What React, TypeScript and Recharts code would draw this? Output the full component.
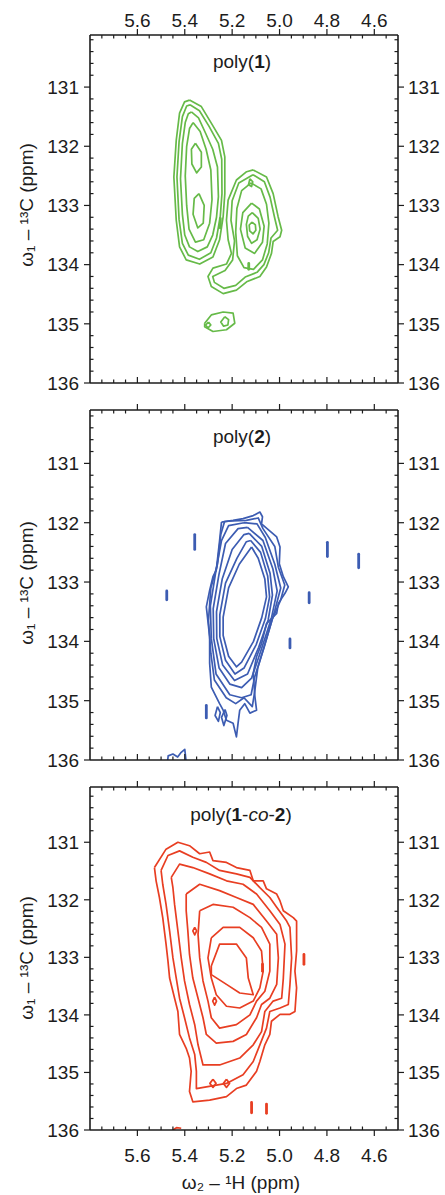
import React from 'react';
import { LineChart, Line, XAxis, YAxis } from 'recharts';

type Pt = [number, number];

// axis ticks (ppm)
const X_MAJOR = [5.6, 5.4, 5.2, 5.0, 4.8, 4.6];
const Y_MAJOR = [131, 132, 133, 134, 135, 136];
const X_DOMAIN: [number, number] = [4.5, 5.8];

// ---------- poly(1) contours ----------
const p1Left1: Pt[] = [[5.380,131.22],[5.330,131.33],[5.288,131.61],[5.245,131.90],[5.231,132.18],[5.231,132.80],[5.238,133.19],[5.253,133.58],[5.281,133.87],[5.337,133.99],[5.394,133.92],[5.422,133.70],[5.436,133.25],[5.446,132.52],[5.436,131.90],[5.422,131.44],[5.401,131.25],[5.380,131.22]];
const p1Left2: Pt[] = [[5.378,131.30],[5.338,131.40],[5.298,131.66],[5.258,131.95],[5.244,132.22],[5.243,132.80],[5.250,133.18],[5.266,133.55],[5.290,133.80],[5.338,133.91],[5.385,133.84],[5.410,133.64],[5.424,133.24],[5.433,132.52],[5.424,131.92],[5.410,131.50],[5.392,131.32],[5.378,131.30]];
const p1Left3: Pt[] = [[5.372,131.42],[5.342,131.52],[5.312,131.78],[5.282,132.05],[5.262,132.35],[5.258,132.85],[5.266,133.20],[5.282,133.50],[5.305,133.70],[5.345,133.78],[5.380,133.70],[5.400,133.50],[5.410,133.15],[5.418,132.55],[5.410,131.95],[5.398,131.60],[5.385,131.45],[5.372,131.42]];
const p1Left4: Pt[] = [[5.365,131.60],[5.335,131.75],[5.310,132.05],[5.290,132.40],[5.285,132.90],[5.295,133.30],[5.320,133.58],[5.355,133.62],[5.382,133.40],[5.392,133.00],[5.398,132.50],[5.392,132.00],[5.380,131.70],[5.365,131.60]];
const p1Left5: Pt[] = [[5.355,131.95],[5.330,132.10],[5.330,132.35],[5.350,132.45],[5.370,132.30],[5.372,132.05],[5.355,131.95]];
const p1Left6: Pt[] = [[5.340,132.80],[5.318,133.00],[5.322,133.30],[5.345,133.38],[5.365,133.15],[5.360,132.88],[5.340,132.80]];
const p1Right1: Pt[] = [[5.111,132.40],[5.055,132.52],[5.027,132.80],[5.006,133.19],[4.991,133.42],[4.998,133.53],[5.027,133.61],[5.034,133.81],[5.055,134.04],[5.083,134.20],[5.139,134.29],[5.182,134.43],[5.238,134.49],[5.288,134.37],[5.302,134.20],[5.281,134.06],[5.224,133.99],[5.203,133.81],[5.217,133.58],[5.224,133.25],[5.217,132.91],[5.182,132.57],[5.139,132.43],[5.111,132.40]];
const p1Right2: Pt[] = [[5.112,132.48],[5.064,132.60],[5.040,132.86],[5.020,133.22],[5.008,133.42],[5.036,133.55],[5.046,133.80],[5.066,134.00],[5.095,134.13],[5.145,134.21],[5.185,134.35],[5.235,134.40],[5.275,134.30],[5.282,134.20],[5.230,134.10],[5.198,133.92],[5.190,133.60],[5.205,133.25],[5.200,132.92],[5.172,132.62],[5.112,132.48]];
const p1Right3: Pt[] = [[5.120,132.62],[5.078,132.72],[5.055,132.98],[5.045,133.30],[5.052,133.65],[5.072,133.92],[5.110,134.08],[5.150,134.05],[5.178,133.85],[5.185,133.45],[5.180,133.05],[5.160,132.75],[5.120,132.62]];
const p1Right4: Pt[] = [[5.118,132.96],[5.085,133.06],[5.065,133.35],[5.072,133.62],[5.105,133.81],[5.145,133.72],[5.165,133.40],[5.155,133.12],[5.118,132.96]];
const p1Right5: Pt[] = [[5.115,133.12],[5.090,133.22],[5.082,133.40],[5.095,133.58],[5.118,133.64],[5.135,133.52],[5.140,133.32],[5.132,133.18],[5.115,133.12]];
const p1Right6: Pt[] = [[5.116,133.28],[5.102,133.33],[5.100,133.42],[5.112,133.48],[5.126,133.43],[5.128,133.33],[5.116,133.28]];
const p1Dot1: Pt[] = [[5.125,132.55],[5.113,132.60],[5.118,132.68],[5.131,132.65],[5.125,132.55]];
const p1Bottom1: Pt[] = [[5.316,134.99],[5.288,134.85],[5.238,134.80],[5.196,134.82],[5.189,134.99],[5.224,135.10],[5.281,135.13],[5.316,135.05],[5.316,134.99]];
const p1Bottom2: Pt[] = [[5.231,134.88],[5.215,134.93],[5.218,135.02],[5.236,135.04],[5.248,134.97],[5.231,134.88]];
const p1Bottom3: Pt[] = [[5.300,134.97],[5.290,135.02],[5.302,135.07],[5.312,135.02],[5.300,134.97]];
const p1Spots: Pt[][] = [[[5.25,133.22],[5.25,133.38]],[[5.13,133.98],[5.13,134.08]]];

// ---------- poly(2) contours ----------
const p2Ring1: Pt[] = [[5.245,131.99],[5.196,131.96],[5.154,131.93],[5.111,131.88],[5.083,131.82],[5.072,131.90],[5.076,132.02],[5.012,132.24],[4.998,132.41],[5.001,132.69],[4.984,132.91],[4.963,133.08],[4.977,133.19],[5.005,133.36],[5.012,133.53],[5.055,133.70],[5.076,134.04],[5.097,134.26],[5.111,134.54],[5.104,134.93],[5.097,135.16],[5.125,135.21],[5.147,135.05],[5.168,135.16],[5.175,135.38],[5.182,135.61],[5.196,135.38],[5.224,135.33],[5.238,135.16],[5.253,135.05],[5.288,134.77],[5.295,134.37],[5.295,133.92],[5.309,133.42],[5.295,133.14],[5.281,132.91],[5.267,132.80],[5.253,132.30],[5.245,131.99]];
const p2Ring2: Pt[] = [[5.200,131.97],[5.140,131.96],[5.090,131.92],[5.070,132.10],[5.020,132.40],[5.005,132.75],[4.978,133.05],[4.995,133.30],[5.030,133.62],[5.062,134.05],[5.092,134.45],[5.105,134.85],[5.115,135.10],[5.150,134.95],[5.185,135.05],[5.225,134.95],[5.275,134.65],[5.290,134.20],[5.300,133.65],[5.290,133.10],[5.262,132.70],[5.248,132.20],[5.232,131.98],[5.200,131.97]];
const p2Ring3: Pt[] = [[5.150,132.00],[5.095,132.02],[5.060,132.25],[5.020,132.70],[4.995,133.10],[5.020,133.48],[5.065,134.10],[5.105,134.60],[5.120,134.90],[5.160,134.95],[5.210,134.90],[5.268,134.55],[5.288,133.95],[5.292,133.40],[5.270,132.85],[5.245,132.30],[5.215,132.05],[5.150,132.00]];
const p2Ring4: Pt[] = [[5.135,132.08],[5.070,132.30],[5.028,132.78],[5.010,133.15],[5.035,133.62],[5.078,134.15],[5.118,134.62],[5.160,134.78],[5.210,134.72],[5.255,134.45],[5.278,133.95],[5.280,133.45],[5.256,132.88],[5.228,132.35],[5.175,132.10],[5.135,132.08]];
const p2Ring5: Pt[] = [[5.128,132.18],[5.075,132.40],[5.040,132.85],[5.030,133.22],[5.048,133.64],[5.088,134.10],[5.135,134.55],[5.190,134.66],[5.240,134.40],[5.265,133.95],[5.266,133.50],[5.242,132.95],[5.200,132.45],[5.150,132.20],[5.128,132.18]];
const p2Ring6: Pt[] = [[5.122,132.30],[5.080,132.50],[5.050,132.90],[5.042,133.25],[5.060,133.62],[5.098,134.05],[5.150,134.45],[5.188,134.55],[5.228,134.32],[5.252,133.92],[5.252,133.55],[5.228,133.02],[5.180,132.60],[5.140,132.32],[5.122,132.30]];
const p2Ring7: Pt[] = [[5.118,132.41],[5.090,132.60],[5.062,132.95],[5.055,133.25],[5.075,133.60],[5.110,134.00],[5.160,134.35],[5.182,134.43],[5.215,134.25],[5.238,133.90],[5.238,133.59],[5.215,133.10],[5.170,132.70],[5.118,132.41]];
const p2Loop1: Pt[] = [[5.262,135.10],[5.250,135.20],[5.258,135.35],[5.272,135.25],[5.262,135.10]];
const p2Loop2: Pt[] = [[5.230,135.15],[5.222,135.25],[5.235,135.42],[5.245,135.28],[5.230,135.15]];
const p2Edge: Pt[] = [[5.472,136.0],[5.470,135.93],[5.450,135.90],[5.430,135.95],[5.415,135.87],[5.400,135.82],[5.395,136.0]];
const p2Spots: Pt[][] = [
  [[5.358,132.20],[5.358,132.45]],
  [[5.476,133.15],[5.476,133.30]],
  [[4.798,132.33],[4.798,132.57]],
  [[4.666,132.53],[4.666,132.76]],
  [[4.875,133.18],[4.875,133.35]],
  [[4.956,133.96],[4.956,134.11]],
  [[5.309,135.08],[5.309,135.29]],
];

// ---------- poly(1-co-2) contours ----------
const p3Ring1: Pt[] = [[5.528,131.44],[5.479,131.12],[5.429,131.00],[5.380,131.06],[5.337,131.20],[5.295,131.17],[5.281,131.32],[5.224,131.35],[5.182,131.44],[5.125,131.49],[5.111,131.67],[5.069,131.67],[5.055,131.81],[5.012,131.90],[4.998,132.02],[4.984,132.19],[4.942,132.31],[4.928,132.37],[4.928,132.89],[4.935,133.24],[4.928,133.53],[4.935,133.94],[4.956,133.99],[4.998,133.99],[5.034,134.11],[5.041,134.34],[5.062,134.52],[5.083,134.81],[5.097,134.98],[5.140,135.22],[5.182,135.28],[5.224,135.42],[5.295,135.48],[5.366,135.51],[5.380,135.33],[5.373,134.98],[5.380,134.75],[5.394,134.58],[5.422,134.34],[5.429,133.94],[5.443,133.71],[5.464,133.36],[5.471,133.06],[5.479,132.77],[5.493,132.31],[5.507,131.96],[5.521,131.67],[5.528,131.44]];
const p3Ring2: Pt[] = [[5.500,131.49],[5.471,131.23],[5.422,131.15],[5.366,131.26],[5.309,131.35],[5.253,131.49],[5.182,131.55],[5.125,131.61],[5.083,131.79],[5.041,131.96],[5.012,132.13],[4.970,132.37],[4.956,132.48],[4.949,133.01],[4.956,133.47],[4.963,133.82],[4.998,133.88],[5.041,133.94],[5.055,134.23],[5.083,134.52],[5.111,134.81],[5.154,135.04],[5.224,135.19],[5.309,135.25],[5.351,135.28],[5.351,134.98],[5.358,134.69],[5.380,134.40],[5.401,134.05],[5.422,133.71],[5.436,133.36],[5.450,133.01],[5.464,132.54],[5.479,132.08],[5.493,131.73],[5.500,131.49]];
const p3Ring3: Pt[] = [[5.457,131.61],[5.422,131.38],[5.366,131.44],[5.295,131.55],[5.224,131.67],[5.154,131.73],[5.097,131.90],[5.041,132.19],[4.998,132.43],[4.977,132.77],[4.984,133.36],[4.991,133.71],[5.027,133.76],[5.062,133.94],[5.076,134.29],[5.111,134.52],[5.168,134.75],[5.253,134.87],[5.323,134.87],[5.344,134.52],[5.358,134.17],[5.380,133.82],[5.401,133.41],[5.415,133.01],[5.429,132.54],[5.443,132.08],[5.450,131.79],[5.457,131.61]];
const p3Ring4: Pt[] = [[5.394,131.90],[5.337,131.73],[5.253,131.84],[5.182,131.96],[5.111,132.08],[5.055,132.37],[5.012,132.60],[5.005,133.01],[5.012,133.47],[5.041,133.71],[5.076,133.82],[5.097,134.05],[5.140,134.34],[5.196,134.46],[5.267,134.49],[5.309,134.34],[5.323,134.05],[5.344,133.71],[5.366,133.36],[5.380,132.95],[5.387,132.54],[5.394,132.19],[5.394,131.90]];
const p3Ring5: Pt[] = [[5.337,132.19],[5.281,132.08],[5.196,132.13],[5.125,132.31],[5.076,132.48],[5.041,132.77],[5.041,133.24],[5.062,133.59],[5.097,133.76],[5.125,134.00],[5.182,134.17],[5.253,134.23],[5.288,134.05],[5.302,133.76],[5.323,133.41],[5.337,133.01],[5.344,132.60],[5.337,132.19]];
const p3Ring6: Pt[] = [[5.288,132.66],[5.238,132.48],[5.168,132.48],[5.111,132.66],[5.076,132.89],[5.069,133.24],[5.083,133.53],[5.111,133.76],[5.168,133.88],[5.224,133.85],[5.267,133.65],[5.288,133.36],[5.302,133.01],[5.288,132.66]];
const p3Ring7: Pt[] = [[5.288,133.15],[5.253,132.77],[5.182,132.77],[5.140,133.01],[5.132,133.36],[5.111,133.65],[5.168,133.62],[5.224,133.47],[5.288,133.30],[5.288,133.15]];
const p3Loop1: Pt[] = [[5.281,135.12],[5.268,135.19],[5.281,135.26],[5.294,135.19],[5.281,135.12]];
const p3Loop2: Pt[] = [[5.224,135.12],[5.211,135.19],[5.224,135.26],[5.237,135.19],[5.224,135.12]];
const p3Loop3: Pt[] = [[5.358,132.48],[5.350,132.54],[5.358,132.61],[5.366,132.54],[5.358,132.48]];
const p3Loop4: Pt[] = [[5.274,133.69],[5.266,133.76],[5.274,133.83],[5.282,133.76],[5.274,133.69]];
const p3Edge: Pt[] = [[5.450,136.0],[5.435,135.96],[5.415,135.97]];
const p3Spots: Pt[][] = [
  [[4.897,132.95],[4.897,133.12]],
  [[5.118,135.52],[5.118,135.70]],
  [[5.055,135.55],[5.055,135.71]],
  [[5.072,133.12],[5.072,133.24]],
];

const p1Contours = [p1Left1, p1Left2, p1Left3, p1Left4, p1Left5, p1Left6, p1Right1, p1Right2, p1Right3, p1Right4, p1Right5, p1Right6, p1Dot1, p1Bottom1, p1Bottom2, p1Bottom3];
const p2Contours = [p2Ring1, p2Ring2, p2Ring3, p2Ring4, p2Ring5, p2Ring6, p2Ring7, p2Loop1, p2Loop2, p2Edge];
const p3Contours = [p3Ring1, p3Ring2, p3Ring3, p3Ring4, p3Ring5, p3Ring6, p3Ring7, p3Loop1, p3Loop2, p3Loop3, p3Loop4, p3Edge];

const FONT = '"Liberation Sans", Arial, Helvetica, sans-serif';
const INK = '#1c1c1c';

function buildTicks(from: number, to: number, step: number) {
  const out: number[] = [];
  for (let v = from; v <= to + 1e-9; v += step) out.push(Math.round(v * 1000) / 1000);
  return out;
}
const xTicks = buildTicks(4.55, 5.75, 0.05);
const yTicks = buildTicks(130.2, 136, 0.2);
const isMajor = (v: number, majors: number[]) => majors.some((m) => Math.abs(m - v) < 1e-6);
const toPoints = (c: Pt[]) => c.map(([x, y]) => ({ x, y }));

const xTick = (side: 'top' | 'bottom', labels: boolean, outward: boolean) => (p: any) => {
  const v = p.payload.value;
  const major = isMajor(v, X_MAJOR);
  const dir = side === 'top' ? -1 : 1;
  const len = major ? (outward ? dir * 6 : -dir * 6) : -dir * 3.5;
  return (
    <g>
      <line x1={p.x} x2={p.x} y1={p.y} y2={p.y + len} stroke={INK} strokeWidth={1.2} />
      {labels && major && (
        <text x={p.x} y={side === 'top' ? p.y - 8 : p.y + 32} textAnchor="middle" fontSize={19} fontFamily={FONT} fill={INK}>
          {v.toFixed(1)}
        </text>
      )}
    </g>
  );
};

const yTick = (side: 'left' | 'right') => (p: any) => {
  const v = p.payload.value;
  const major = isMajor(v, Y_MAJOR);
  const dir = side === 'left' ? -1 : 1;
  const len = major ? dir * 6 : -dir * 3.5;
  return (
    <g>
      <line x1={p.x} x2={p.x + len} y1={p.y} y2={p.y} stroke={INK} strokeWidth={1.2} />
      {major && (
        <text x={side === 'left' ? p.x - 11 : p.x + 10} y={p.y} dy="0.36em" textAnchor={side === 'left' ? 'end' : 'start'} fontSize={19} fontFamily={FONT} fill={INK}>
          {v}
        </text>
      )}
    </g>
  );
};

interface PanelProps {
  top: number;
  height: number;
  topH: number;
  bottomH: number;
  yMin: number;
  color: string;
  contours: Pt[][];
  spots: Pt[][];
  topLabels: boolean;
  bottomLabels: boolean;
}

function Panel({ top, height, topH, bottomH, yMin, color, contours, spots, topLabels, bottomLabels }: PanelProps) {
  const axisLine = { stroke: INK, strokeWidth: 1.6 };
  return (
    <div style={{ position: 'absolute', left: 0, top }}>
      <LineChart width={445} height={height} margin={{ top: 0, right: 0, bottom: 0, left: 0 }}>
        <XAxis xAxisId="top" orientation="top" type="number" dataKey="x" domain={X_DOMAIN} reversed allowDataOverflow
          ticks={xTicks} interval={0} height={topH} tickSize={0} tickMargin={0} tickLine={false} axisLine={axisLine}
          tick={xTick('top', topLabels, true)} />
        <XAxis xAxisId="bottom" orientation="bottom" type="number" dataKey="x" domain={X_DOMAIN} reversed allowDataOverflow
          ticks={xTicks} interval={0} height={bottomH} tickSize={0} tickMargin={0} tickLine={false} axisLine={axisLine}
          tick={xTick('bottom', bottomLabels, bottomLabels)} />
        <YAxis yAxisId="left" orientation="left" type="number" domain={[yMin, 136]} reversed allowDataOverflow
          ticks={yTicks} interval={0} width={90} tickSize={0} tickMargin={0} tickLine={false} axisLine={axisLine}
          tick={yTick('left')} />
        <YAxis yAxisId="right" orientation="right" type="number" domain={[yMin, 136]} reversed allowDataOverflow
          ticks={yTicks} interval={0} width={47} tickSize={0} tickMargin={0} tickLine={false} axisLine={axisLine}
          tick={yTick('right')} />
        {contours.map((c, i) => (
          <Line key={`c${i}`} data={toPoints(c)} dataKey="y" xAxisId="top" yAxisId="left" type="linear"
            stroke={color} strokeWidth={1.7} strokeLinejoin="round" dot={false} activeDot={false} isAnimationActive={false} />
        ))}
        {spots.map((c, i) => (
          <Line key={`s${i}`} data={toPoints(c)} dataKey="y" xAxisId="top" yAxisId="left" type="linear"
            stroke={color} strokeWidth={2.8} strokeLinecap="round" dot={false} activeDot={false} isAnimationActive={false} />
        ))}
      </LineChart>
    </div>
  );
}

const Y_TITLE = 'ω₁ – ¹³C (ppm)';

export default function App() {
  return (
    <div style={{ position: 'absolute', left: 0, top: 0, width: 445, height: 1195, overflow: 'hidden', background: '#fff' }}>
      <Panel top={0} height={395} topH={35} bottomH={12} yMin={130.12} color="#66ba48"
        contours={p1Contours} spots={p1Spots} topLabels bottomLabels={false} />
      <Panel top={395} height={375} topH={15} bottomH={10} yMin={130.1} color="#3c5cb2"
        contours={p2Contours} spots={p2Spots} topLabels={false} bottomLabels={false} />
      <Panel top={770} height={425} topH={17} bottomH={65} yMin={130.04} color="#e83e22"
        contours={p3Contours} spots={p3Spots} topLabels={false} bottomLabels />
      <svg width={445} height={1195} style={{ position: 'absolute', left: 0, top: 0, pointerEvents: 'none' }}>
        <g fontFamily={FONT} fontSize={19} fill={INK}>
          <text x={242} y={68} textAnchor="middle">poly(<tspan fontWeight="bold">1</tspan>)</text>
          <text x={242} y={443} textAnchor="middle">poly(<tspan fontWeight="bold">2</tspan>)</text>
          <text x={241} y={821} textAnchor="middle">
            poly(<tspan fontWeight="bold">1</tspan>-<tspan fontStyle="italic">co</tspan>-<tspan fontWeight="bold">2</tspan>)
          </text>
          <text x={241} y={1189} textAnchor="middle">ω₂ – ¹H (ppm)</text>
          {[205, 583, 958].map((cy) => (
            <text key={cy} x={33} y={cy} textAnchor="middle" transform={`rotate(-90 33 ${cy})`}>{Y_TITLE}</text>
          ))}
        </g>
      </svg>
    </div>
  );
}
